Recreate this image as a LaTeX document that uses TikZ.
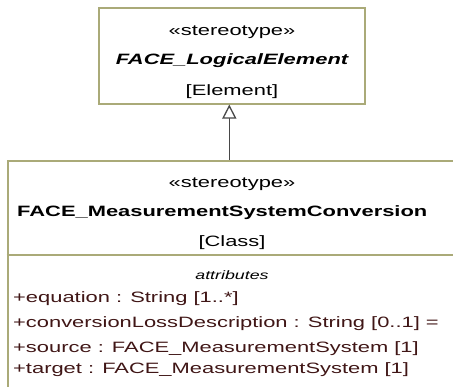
\documentclass[tikz,border=0pt]{standalone}
\usepackage{fontspec}
\setmainfont{Liberation Sans}[FakeStretch=1.46]
\usetikzlibrary{arrows.meta}
\definecolor{boxline}{RGB}{170,170,120}
\definecolor{attrcol}{RGB}{64,22,22}
\definecolor{genline}{RGB}{72,72,72}
\tikzset{
  umlbox/.style={draw=boxline, line width=2pt, fill=white, rectangle, inner sep=0pt},
  txt/.style={inner sep=0pt, anchor=mid, font=\fontsize{15}{18}\selectfont},
  attr/.style={inner sep=0pt, anchor=mid west, text=attrcol, font=\fontsize{15}{18}\selectfont},
  genl/.style={draw=genline, line width=1.5pt},
  genhead/.style={draw=genline, line width=1.3pt, fill=white, line join=miter}
}
\begin{document}
\begin{tikzpicture}[x=1pt,y=-1pt]
\useasboundingbox (0,0) rectangle (453,386);
\clip (0,0) rectangle (453,386);
\fill[white] (0,0) rectangle (453,386);
% boxes
\node[umlbox, minimum width=266.5pt, minimum height=96.5pt] (le) at (231.75,55.75) {};
\node[umlbox, minimum width=452pt, minimum height=250pt, anchor=north west] (msc) at (6.7,159.7) {};
\coordinate (sepl) at (6.7,255.3);
\draw[boxline, line width=2pt] (sepl) -- (sepl -| msc.east);
% generalization
\coordinate (gx) at (229.3,0);
\coordinate (tip) at ([yshift=-1pt]le.south -| gx);
\coordinate (base) at ([yshift=-13pt]le.south -| gx);
\draw[genl] (msc.north -| gx) -- (base);
\draw[genhead] (tip) -- ([xshift=-6.2pt]base) -- ([xshift=6.2pt]base) -- cycle;
% texts upper
\node[txt] (st1) at (232,33) {«stereotype»};
\node[txt, font=\fontsize{15}{18}\selectfont\bfseries\itshape] (n1) at (232,62) {FACE\_LogicalElement};
\node[txt] (m1) at (232,93) {[Element]};
% texts lower
\node[txt] (st2) at (232,184.5) {«stereotype»};
\node[txt, font=\fontsize{15}{18}\selectfont\bfseries, anchor=mid west] (n2) at (17,213.5) {FACE\_MeasurementSystemConversion};
\node[txt] (m2) at (232,243.5) {[Class]};
\node[txt, font=\fontsize{12.2}{15}\selectfont\itshape] (ah) at (232,277) {attributes};
\node[attr] (a1) at (13,300) {+equation : String [1..*]};
\node[attr] (a2) at (13,325) {+conversionLossDescription : String [0..1] =};
\node[attr] (a3) at (13,349.5) {+source : FACE\_MeasurementSystem [1]};
\node[attr] (a4) at (13,371) {+target : FACE\_MeasurementSystem [1]};
\end{tikzpicture}
\end{document}
